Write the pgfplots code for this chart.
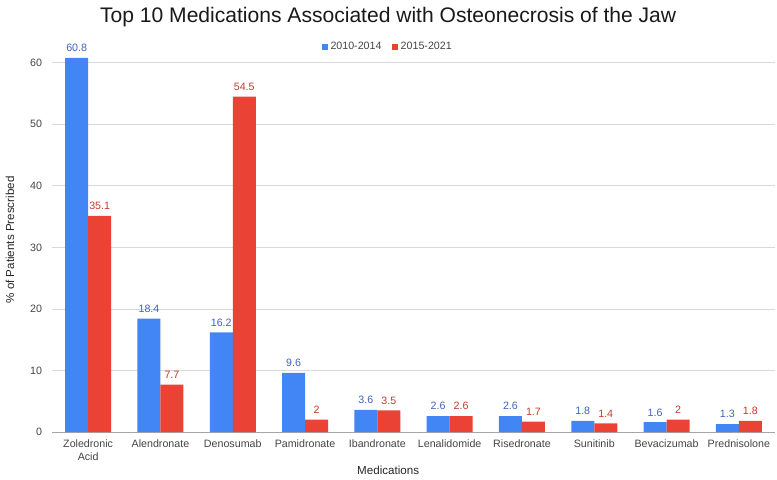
\documentclass[border=0pt]{standalone}
\usepackage{pgfplots}
\pgfplotsset{compat=1.18}
\usepackage{fontspec}
\setmainfont{Liberation Sans}
\definecolor{gblue}{HTML}{4285F4}
\definecolor{gred}{HTML}{EA4335}
\definecolor{lblue}{HTML}{3F63B8}
\definecolor{lred}{HTML}{C4392D}
\definecolor{txt}{HTML}{444444}
\definecolor{gridc}{HTML}{D9D9D9}
\begin{document}
\begin{tikzpicture}
\path[use as bounding box] (-39pt,-35.25pt) rectangle (543.75pt,324pt);
\begin{axis}[
  at={(0,0)}, anchor=south west,
  scale only axis,
  width=542.25pt, height=277pt,
  xmin=-0.5, xmax=9.5, ymin=0, ymax=60,
  clip=false,
  ybar, bar width=17.25pt,
  axis x line*=bottom, axis y line*=left,
  y axis line style={draw=none},
  x axis line style={draw=black!35, line width=0.6pt},
  major tick length=0pt,
  ytick={0,10,...,60},
  ymajorgrids, xmajorgrids=false, grid style={draw=gridc, line width=0.5pt},
  xtick={0,...,9},
  xticklabels={Zoledronic\\Acid,Alendronate,Denosumab,Pamidronate,Ibandronate,Lenalidomide,Risedronate,Sunitinib,Bevacizumab,Prednisolone},
  xticklabel style={align=center, font=\fontsize{8}{10}\selectfont, text=txt, yshift=-2pt},
  yticklabel style={font=\fontsize{8}{10}\selectfont, text=txt, xshift=-4pt},
  /pgf/number format/assume math mode=true,
  xlabel={Medications},
  xlabel style={at={(axis description cs:0.465,-0.103)}, anchor=center, font=\fontsize{8.7}{10}\selectfont, text=black!85},
  ylabel={\% of Patients Prescribed},
  ylabel style={at={(axis description cs:-0.058,0.52)}, anchor=center, rotate=0, font=\fontsize{8.7}{10}\selectfont, text=black!85},
  title={Top 10 Medications Associated with Osteonecrosis of the Jaw},
  title style={at={(axis description cs:0.465,1.102)}, anchor=center, font=\fontsize{15.8}{18}\selectfont, text=black!90},
  legend style={at={(axis description cs:0.465,1.042)}, anchor=center, draw=none, fill=none,
    legend columns=2, font=\fontsize{8}{10}\selectfont, text=txt,
    /tikz/every even column/.append style={column sep=6pt}},
  legend image code/.code={\fill[#1] (0pt,-2.2pt) rectangle (4.4pt,2.2pt);},
  nodes near coords,
  every node near coord/.append style={font=\fontsize{8}{10}\selectfont, yshift=1pt},
]
\addplot[fill=gblue, draw=none, bar shift=-8.625pt, every node near coord/.append style={text=lblue}] coordinates {
(0,60.8) (1,18.4) (2,16.2) (3,9.6) (4,3.6) (5,2.6) (6,2.6) (7,1.8) (8,1.6) (9,1.3)};
\addlegendentry{2010-2014}
\addplot[fill=gred, draw=none, bar shift=8.625pt, every node near coord/.append style={text=lred}] coordinates {
(0,35.1) (1,7.7) (2,54.5) (3,2) (4,3.5) (5,2.6) (6,1.7) (7,1.4) (8,2) (9,1.8)};
\addlegendentry{2015-2021}
\end{axis}
\end{tikzpicture}
\end{document}
